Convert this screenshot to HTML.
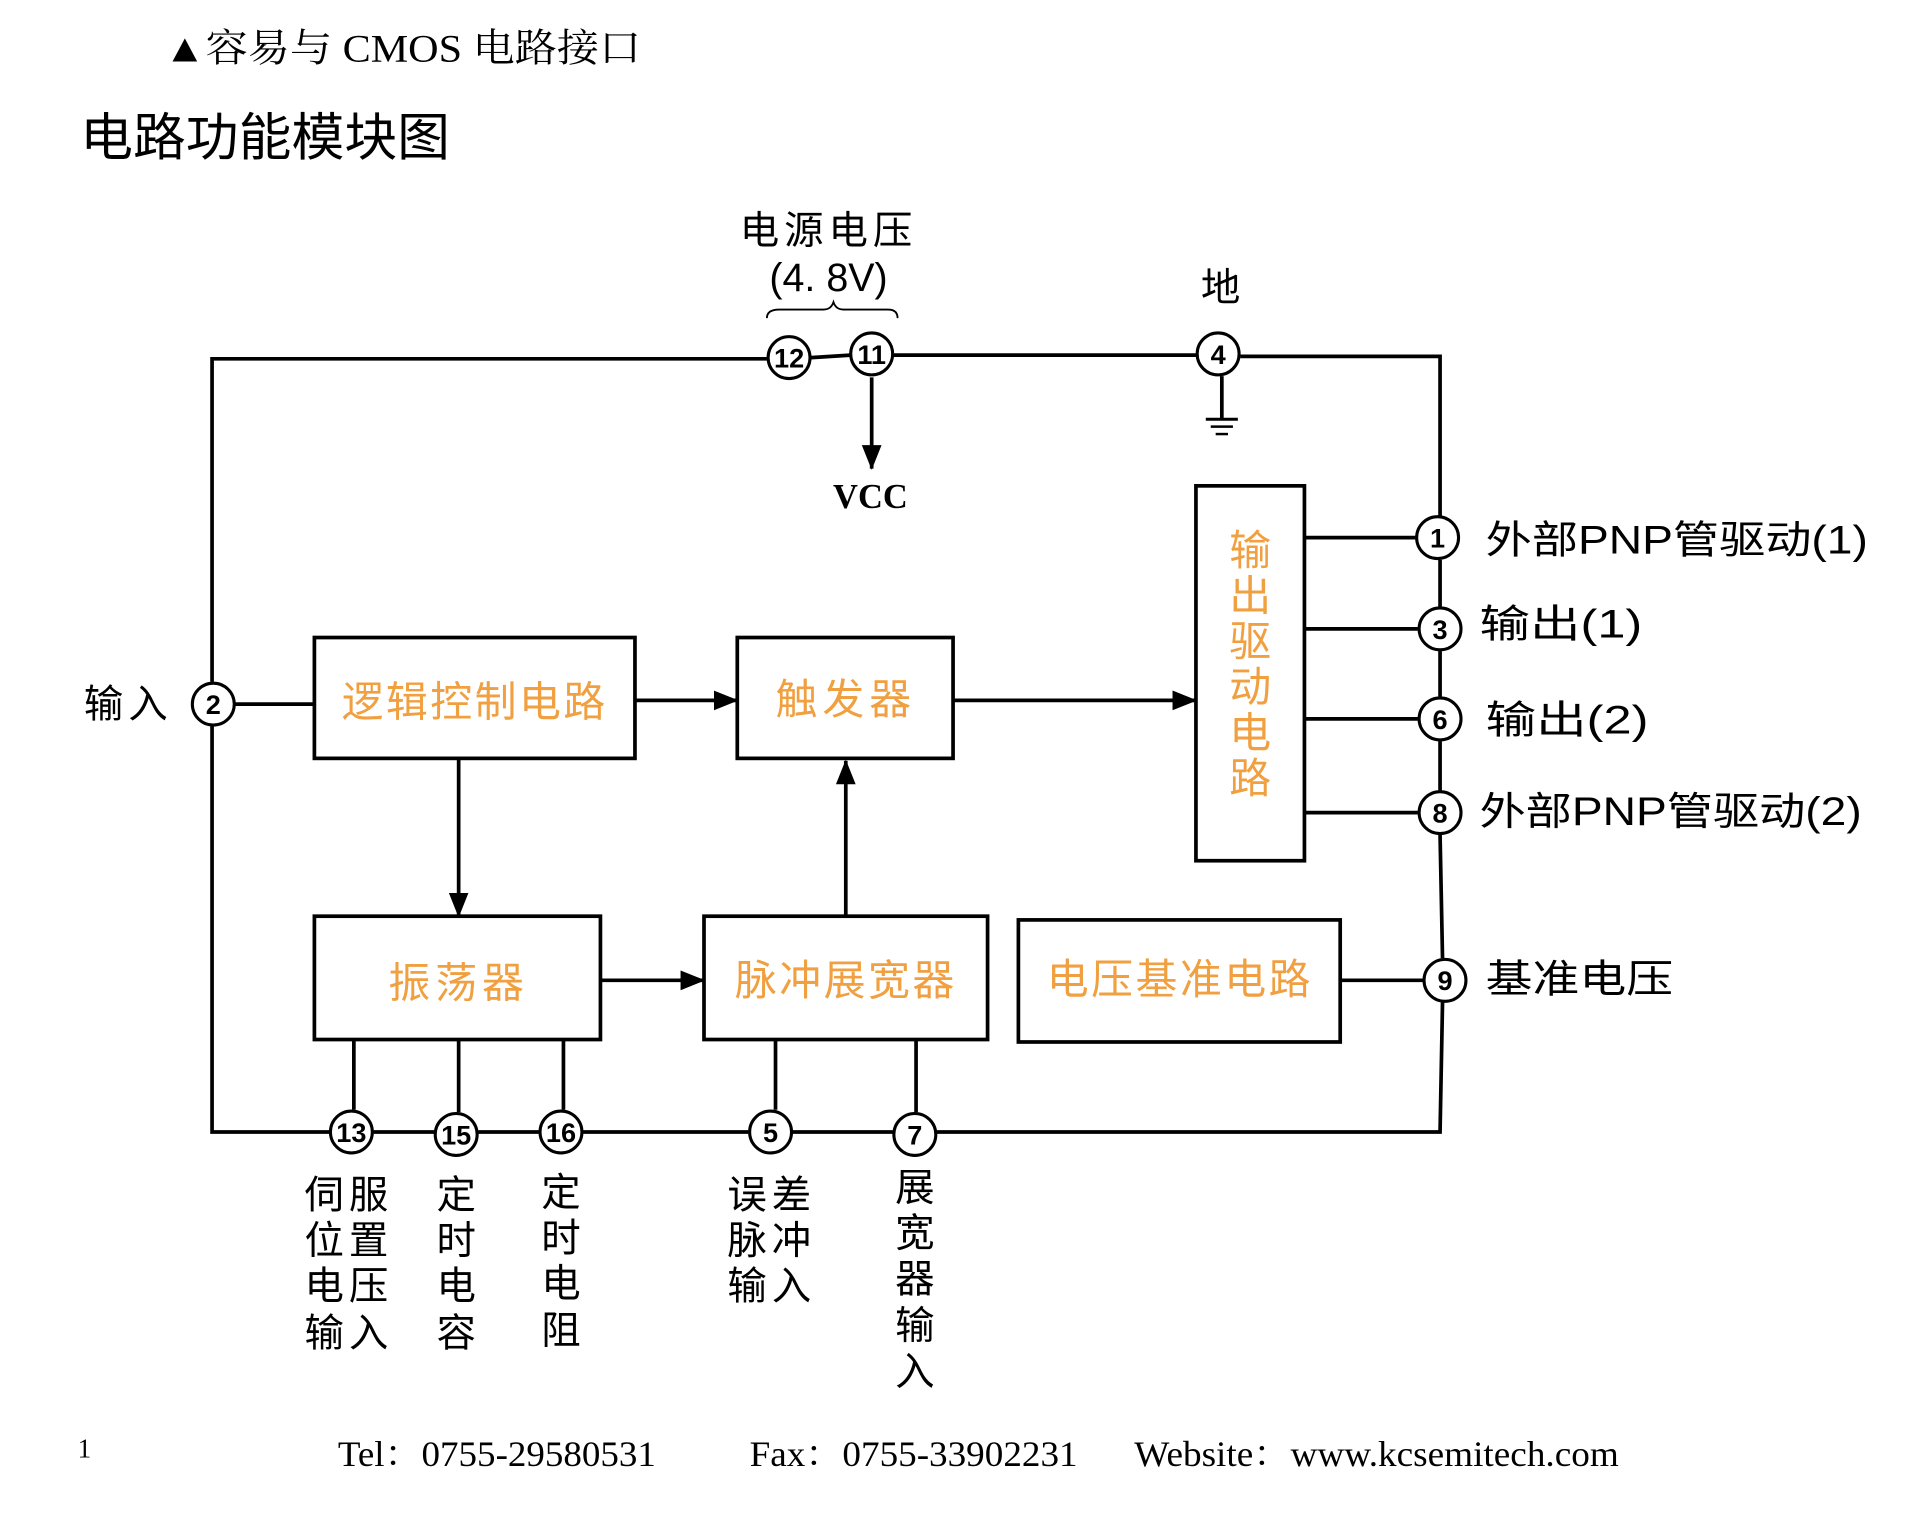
<!DOCTYPE html>
<html><head><meta charset="utf-8">
<style>
html,body{margin:0;padding:0;background:#fff;}
svg{display:block;}
.t{font-family:"Liberation Sans","Noto Sans CJK SC",sans-serif;fill:#000;}
.s{font-family:"Liberation Serif","Noto Serif CJK SC",serif;fill:#000;}
.o{font-family:"Liberation Sans","Noto Sans CJK SC",sans-serif;fill:#f0a040;font-size:34px;}
.n{font-family:"Liberation Sans",sans-serif;font-size:22px;font-weight:bold;fill:#000;text-anchor:middle;}
</style></head><body>
<svg width="1932" height="1534" viewBox="0 0 1567 1244" preserveAspectRatio="none" xmlns="http://www.w3.org/2000/svg">
<defs>
<marker id="b" markerWidth="20" markerHeight="20" refX="19" refY="10" orient="auto" markerUnits="userSpaceOnUse"><path d="M0,2 L20,10 L0,18 z" fill="#000"/></marker></defs>
<text class="s" x="133" y="50" font-size="32" textLength="387" lengthAdjust="spacingAndGlyphs">▲容易与 CMOS 电路接口</text>
<text class="t" x="65" y="126" font-size="42" textLength="300" lengthAdjust="spacingAndGlyphs">电路功能模块图</text>

<g stroke="#000" stroke-width="3" fill="none">
<polyline points="622,291 172,291 172,553"/>
<polyline points="172,589 172,918 268,918"/>
<line x1="658" y1="290" x2="690" y2="288"/>
<line x1="725" y1="288" x2="970" y2="288"/>
<polyline points="1006,289 1168,289 1168,418"/>
<line x1="1168" y1="454" x2="1168" y2="492"/>
<line x1="1168" y1="528" x2="1168" y2="565"/>
<line x1="1168" y1="601" x2="1168" y2="641"/>
<line x1="1168" y1="677" x2="1170" y2="777"/>
<polyline points="1170,813 1168,918 760,918"/>
<line x1="303" y1="918" x2="352" y2="918"/>
<line x1="388" y1="918" x2="437" y2="918"/>
<line x1="473" y1="918" x2="607" y2="918"/>
<line x1="643" y1="918" x2="724" y2="918"/>
<rect x="255" y="517" width="260" height="98"/>
<rect x="598" y="517" width="175" height="98"/>
<rect x="970" y="394" width="88" height="304"/>
<rect x="255" y="743" width="232" height="100"/>
<rect x="571" y="743" width="230" height="100"/>
<rect x="826" y="746" width="261" height="99"/>
<line x1="191" y1="571" x2="255" y2="571"/>
<line x1="1058" y1="436" x2="1148" y2="436"/>
<line x1="1058" y1="510" x2="1150" y2="510"/>
<line x1="1058" y1="583" x2="1150" y2="583"/>
<line x1="1058" y1="659" x2="1150" y2="659"/>
<line x1="1087" y1="795" x2="1154" y2="795"/>
<line x1="287" y1="843" x2="287" y2="900"/>
<line x1="372" y1="843" x2="372" y2="902"/>
<line x1="457" y1="843" x2="457" y2="900"/>
<line x1="629" y1="843" x2="629" y2="900"/>
<line x1="743" y1="843" x2="743" y2="902"/>
<line x1="991" y1="305" x2="991" y2="340"/>
<line x1="978" y1="340" x2="1004" y2="340" stroke-width="2.5"/>
<line x1="982" y1="346" x2="1000" y2="346" stroke-width="2"/>
<line x1="986" y1="352" x2="996" y2="352" stroke-width="2"/>
<path d="M622,258 Q622,251 632,251 L668,251 Q674,251 676,245 Q678,251 684,251 L720,251 Q728,251 728,258" stroke-width="1.5"/>
<line x1="707" y1="306" x2="707" y2="380" marker-end="url(#b)"/>
<line x1="515" y1="568" x2="598" y2="568" marker-end="url(#b)"/>
<line x1="773" y1="568" x2="970" y2="568" marker-end="url(#b)"/>
<line x1="372" y1="615" x2="372" y2="743" marker-end="url(#b)"/>
<line x1="487" y1="795" x2="571" y2="795" marker-end="url(#b)"/>
<line x1="686" y1="743" x2="686" y2="617" marker-end="url(#b)"/>
<g stroke-width="2.5">
<circle cx="640" cy="290" r="17"/><circle cx="707" cy="287" r="17"/><circle cx="988" cy="287" r="17"/>
<circle cx="173" cy="571" r="17"/>
<circle cx="1166" cy="436" r="17"/><circle cx="1168" cy="510" r="17"/><circle cx="1168" cy="583" r="17"/><circle cx="1168" cy="659" r="17"/><circle cx="1172" cy="795" r="17"/>
<circle cx="285" cy="918" r="17"/><circle cx="370" cy="920" r="17"/><circle cx="455" cy="918" r="17"/><circle cx="625" cy="918" r="17"/><circle cx="742" cy="920" r="17"/>
</g>
</g>
<g class="n">
<text x="640" y="298">12</text><text x="707" y="295">11</text><text x="988" y="295">4</text>
<text x="173" y="579">2</text>
<text x="1166" y="444">1</text><text x="1168" y="518">3</text><text x="1168" y="591">6</text><text x="1168" y="667">8</text><text x="1172" y="803">9</text>
<text x="285" y="926">13</text><text x="370" y="928">15</text><text x="455" y="926">16</text><text x="625" y="926">5</text><text x="742" y="928">7</text>
</g>

<text class="t" x="672" y="198" font-size="32" text-anchor="middle" letter-spacing="4">电源电压</text>
<text class="t" x="672" y="236" font-size="32" text-anchor="middle">(4. 8V)</text>
<text class="t" x="990" y="244" font-size="32" text-anchor="middle">地</text>
<text class="s" x="706" y="412" font-size="28" font-weight="bold" text-anchor="middle">VCC</text>
<text class="t" x="68" y="582" font-size="32" letter-spacing="4">输入</text>

<text class="o" x="385" y="581" text-anchor="middle" letter-spacing="2">逻辑控制电路</text>
<text class="o" x="686" y="579" text-anchor="middle" letter-spacing="4">触发器</text>
<text class="o" x="372" y="809" text-anchor="middle" letter-spacing="4">振荡器</text>
<text class="o" x="686" y="807" text-anchor="middle" letter-spacing="2">脉冲展宽器</text>
<text class="o" x="957" y="806" text-anchor="middle" letter-spacing="2">电压基准电路</text>
<g class="o" text-anchor="middle">
<text x="1014" y="458">输</text><text x="1014" y="495">出</text><text x="1014" y="532">驱</text><text x="1014" y="569">动</text><text x="1014" y="606">电</text><text x="1014" y="643">路</text>
</g>

<g class="t" font-size="32">
<text x="1205" y="449" textLength="310" lengthAdjust="spacingAndGlyphs">外部PNP管驱动(1)</text>
<text x="1200" y="517" textLength="132" lengthAdjust="spacingAndGlyphs">输出(1)</text>
<text x="1205" y="595" textLength="132" lengthAdjust="spacingAndGlyphs">输出(2)</text>
<text x="1200" y="669" textLength="310" lengthAdjust="spacingAndGlyphs">外部PNP管驱动(2)</text>
<text x="1205" y="805" textLength="152" lengthAdjust="spacingAndGlyphs">基准电压</text>
</g>

<g class="t" font-size="32" text-anchor="middle">
<text x="283" y="980" letter-spacing="4">伺服</text><text x="283" y="1017" letter-spacing="4">位置</text><text x="283" y="1054" letter-spacing="4">电压</text><text x="283" y="1092" letter-spacing="4">输入</text>
<text x="370" y="980">定</text><text x="370" y="1017">时</text><text x="370" y="1054">电</text><text x="370" y="1092">容</text>
<text x="455" y="978">定</text><text x="455" y="1015">时</text><text x="455" y="1052">电</text><text x="455" y="1090">阻</text>
<text x="626" y="980" letter-spacing="4">误差</text><text x="626" y="1017" letter-spacing="4">脉冲</text><text x="626" y="1054" letter-spacing="4">输入</text>
<text x="742" y="974">展</text><text x="742" y="1011">宽</text><text x="742" y="1048">器</text><text x="742" y="1086">输</text><text x="742" y="1123">入</text>
</g>

<g class="s" font-size="29">
<text x="63" y="1182" font-size="22">1</text>
<text x="274" y="1189" textLength="258" lengthAdjust="spacingAndGlyphs">Tel：0755-29580531</text>
<text x="608" y="1189" textLength="266" lengthAdjust="spacingAndGlyphs">Fax：0755-33902231</text>
<text x="920" y="1189" textLength="393" lengthAdjust="spacingAndGlyphs">Website：www.kcsemitech.com</text>
</g>
</svg>
</body></html>
